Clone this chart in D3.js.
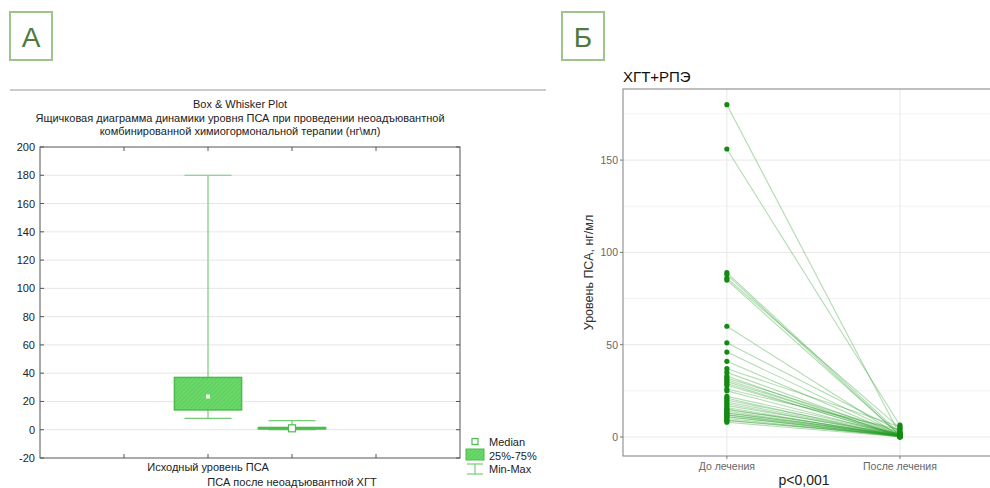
<!DOCTYPE html>
<html><head><meta charset="utf-8">
<script src="https://cdn.jsdelivr.net/npm/d3@7"></script>
<style>body{margin:0;background:#fff}svg{display:block;font-family:"Liberation Sans",Arial,sans-serif}</style>
</head><body>
<svg id="c" width="990" height="488"></svg>
<script>
// ---------- Panel A data (box & whisker) ----------
const boxCategories = ["Исходный уровень ПСА", "ПСА после неоадъювантной ХГТ"];
const boxMin    = [8, 0.1];
const boxQ1     = [14, 0.5];
const boxMedian = [23.5, 1.0];
const boxQ3     = [37, 1.6];
const boxMax    = [180, 6.4];
const boxYTicks = [-20, 0, 20, 40, 60, 80, 100, 120, 140, 160, 180, 200];
const boxTitle = ["Box & Whisker Plot",
  "Ящичковая диаграмма динамики уровня ПСА при проведении неоадъювантной",
  "комбинированной химиогормональной терапии (нг\\мл)"];
const legendLabels = ["Median", "25%-75%", "Min-Max"];

// ---------- Panel B data (paired points) ----------
const timePoints = ["До лечения", "После лечения"];
const psaBefore = [180, 156, 89, 88, 86, 85, 60, 51, 46, 41,
                   37, 35, 33, 32, 31, 30, 29, 28, 26, 25,
                   22, 21, 20, 19, 18, 17, 16, 15, 15, 14,
                   13, 13, 12, 12, 11, 11, 10, 9, 9, 8];
const psaAfter  = [1.2, 6.4, 2.0, 0.8, 4.8, 1.0, 0.5, 3.2, 1.5, 0.9,
                   5.5, 1.1, 0.4, 2.5, 0.7, 1.3, 0.3, 1.0, 4.0, 0.6,
                   1.8, 0.2, 1.6, 0.9, 0.5, 1.4, 0.1, 0.7, 1.0, 0.3,
                   1.2, 0.6, 0.05, 1.1, 0.4, 0.8, 0.2, 1.0, 0.5, 0.1];
const bYTicks = [0, 50, 100, 150];
const bYMinor = [25, 75, 125, 175];
const bTitle = "ХГТ+РПЭ";
const bYLabel = "Уровень ПСА, нг/мл";
const bPValue = "p<0,001";

const svg = d3.select("#c");
const panelLabelColor = "#4f7a3c", panelBoxColor = "#9cc48c";

// Panel letter boxes
[["А", 10, 12], ["Б", 562, 12]].forEach(([t, x, y]) => {
  svg.append("rect").attr("x", x).attr("y", y).attr("width", 42).attr("height", 48)
    .attr("fill", "none").attr("stroke", panelBoxColor).attr("stroke-width", 2);
  svg.append("text").attr("x", x + 21).attr("y", y + 35).attr("text-anchor", "middle")
    .attr("font-size", 28).attr("fill", panelLabelColor).text(t);
});

// ================= Panel A =================
svg.append("line").attr("x1", 10).attr("x2", 546).attr("y1", 90).attr("y2", 90)
  .attr("stroke", "#999").attr("stroke-width", 1.2);
boxTitle.forEach((t, i) => {
  svg.append("text").attr("x", 240).attr("y", 108 + i * 13.5).attr("text-anchor", "middle")
    .attr("font-size", 11).attr("fill", "#222").text(t);
});

const ax = d3.scalePoint().domain(["_l", ...boxCategories, "_r"]).range([40, 460]).padding(1);
const ay = d3.scaleLinear().domain([-20, 200]).range([458, 147]);
const step = ax.step();
const gA = svg.append("g");

// gridlines
gA.selectAll(".hg").data(boxYTicks.filter(v => v > -20 && v < 200)).join("line")
  .attr("x1", 40).attr("x2", 460).attr("y1", d => ay(d)).attr("y2", d => ay(d))
  .attr("stroke", "#e6e6e6");

// pattern
const defs = svg.append("defs");
const pat = defs.append("pattern").attr("id", "hatch").attr("patternUnits", "userSpaceOnUse")
  .attr("width", 3).attr("height", 3).attr("patternTransform", "rotate(45)");
pat.append("rect").attr("width", 3).attr("height", 3).attr("fill", "#6ad86a");
pat.append("line").attr("x1", 0).attr("y1", 0).attr("x2", 0).attr("y2", 3)
  .attr("stroke", "#52c452").attr("stroke-width", 1);

const boxColor = "#4dbb4d", whiskerColor = "#77cc77";
boxCategories.forEach((c, i) => {
  const cx = ax(c), bw = step * 0.8, cw = step * 0.56;
  gA.append("line").attr("x1", cx).attr("x2", cx).attr("y1", ay(boxMax[i])).attr("y2", ay(boxQ3[i]))
    .attr("stroke", whiskerColor).attr("stroke-width", 1.2);
  gA.append("line").attr("x1", cx).attr("x2", cx).attr("y1", ay(boxQ1[i])).attr("y2", ay(boxMin[i]))
    .attr("stroke", whiskerColor).attr("stroke-width", 1.2);
  [boxMax[i], boxMin[i]].forEach(v => gA.append("line").attr("x1", cx - cw / 2).attr("x2", cx + cw / 2)
    .attr("y1", ay(v)).attr("y2", ay(v)).attr("stroke", whiskerColor).attr("stroke-width", 1.2));
  const h = Math.max(ay(boxQ1[i]) - ay(boxQ3[i]), 1.5);
  gA.append("rect").attr("x", cx - bw / 2).attr("y", ay(boxQ3[i])).attr("width", bw).attr("height", h)
    .attr("fill", "url(#hatch)").attr("stroke", boxColor).attr("stroke-width", 1.5);
  const ms = i === 0 ? 4 : 7;
  gA.append("rect").attr("x", cx - ms / 2).attr("y", ay(boxMedian[i]) - ms / 2).attr("width", ms).attr("height", ms)
    .attr("fill", i === 0 ? "#f4fff0" : "#fff").attr("stroke", i === 0 ? "none" : boxColor).attr("stroke-width", 1.2);
});

// frame
gA.append("rect").attr("x", 40).attr("y", 147).attr("width", 420).attr("height", 311)
  .attr("fill", "none").attr("stroke", "#555").attr("stroke-width", 1);
boxYTicks.forEach(v => {
  gA.append("text").attr("x", 35).attr("y", ay(v) + 4).attr("text-anchor", "end")
    .attr("font-size", 11).attr("fill", "#222").text(v);
  gA.append("line").attr("x1", 456).attr("x2", 460).attr("y1", ay(v)).attr("y2", ay(v)).attr("stroke", "#555");
  gA.append("line").attr("x1", 40).attr("x2", 44).attr("y1", ay(v)).attr("y2", ay(v)).attr("stroke", "#555");
});
ax.domain().forEach(d => {
  const x = ax(d);
  gA.append("line").attr("x1", x).attr("x2", x).attr("y1", 147).attr("y2", 151).attr("stroke", "#555");
  gA.append("line").attr("x1", x).attr("x2", x).attr("y1", 454).attr("y2", 458).attr("stroke", "#555");
});
boxCategories.forEach((c, i) => {
  gA.append("text").attr("x", ax(c)).attr("y", 471 + i * 14.5).attr("text-anchor", "middle")
    .attr("font-size", 11).attr("fill", "#222").text(c);
});
// legend
const lg = gA.append("g");
lg.append("rect").attr("x", 472).attr("y", 438.5).attr("width", 6).attr("height", 6)
  .attr("fill", "#fff").attr("stroke", boxColor).attr("stroke-width", 1.2);
lg.append("rect").attr("x", 466).attr("y", 449).attr("width", 18).attr("height", 11)
  .attr("fill", "url(#hatch)").attr("stroke", boxColor).attr("stroke-width", 1);
lg.append("line").attr("x1", 467).attr("x2", 483).attr("y1", 464).attr("y2", 464).attr("stroke", whiskerColor).attr("stroke-width", 1.2);
lg.append("line").attr("x1", 475).attr("x2", 475).attr("y1", 464).attr("y2", 474).attr("stroke", whiskerColor).attr("stroke-width", 1.2);
lg.append("line").attr("x1", 467).attr("x2", 483).attr("y1", 474).attr("y2", 474).attr("stroke", whiskerColor).attr("stroke-width", 1.2);
legendLabels.forEach((t, i) => lg.append("text").attr("x", 489).attr("y", 446 + i * 13.5)
  .attr("font-size", 11).attr("fill", "#222").text(t));

// ================= Panel B =================
const bx = d3.scalePoint().domain(timePoints).range([623, 1003.8]).padding(0.6);
const by = d3.scaleLinear().domain([0, 180]).range([437, 104.7]);
const gB = svg.append("g");
const pTop = 89, pBot = 456, pL = 623, pR = 1004;
gB.selectAll(".mn").data(bYMinor).join("line").attr("x1", pL).attr("x2", pR)
  .attr("y1", d => by(d)).attr("y2", d => by(d)).attr("stroke", "#f3f3f3");
gB.selectAll(".mj").data(bYTicks).join("line").attr("x1", pL).attr("x2", pR)
  .attr("y1", d => by(d)).attr("y2", d => by(d)).attr("stroke", "#e8e8e8");
gB.selectAll(".vg").data(timePoints).join("line").attr("x1", d => bx(d)).attr("x2", d => bx(d))
  .attr("y1", pTop).attr("y2", pBot).attr("stroke", "#e8e8e8");

psaBefore.forEach((v, i) => {
  gB.append("line").attr("x1", bx(timePoints[0])).attr("y1", by(v))
    .attr("x2", bx(timePoints[1])).attr("y2", by(psaAfter[i]))
    .attr("stroke", "#1f9a1f").attr("stroke-opacity", 0.35).attr("stroke-width", 1.1);
});
const ptColor = "#138a13";
gB.selectAll(".pb").data(psaBefore).join("circle").attr("cx", bx(timePoints[0])).attr("cy", d => by(d))
  .attr("r", 2.6).attr("fill", ptColor);
gB.selectAll(".pa").data(psaAfter).join("circle").attr("cx", bx(timePoints[1])).attr("cy", d => by(d))
  .attr("r", 2.6).attr("fill", ptColor);

gB.append("rect").attr("x", pL).attr("y", pTop).attr("width", pR - pL).attr("height", pBot - pTop)
  .attr("fill", "none").attr("stroke", "#8a8a8a").attr("stroke-width", 1.1);
bYTicks.forEach(v => {
  gB.append("line").attr("x1", pL - 3).attr("x2", pL).attr("y1", by(v)).attr("y2", by(v)).attr("stroke", "#777");
  gB.append("text").attr("x", pL - 5).attr("y", by(v) + 4).attr("text-anchor", "end")
    .attr("font-size", 10.5).attr("fill", "#666").text(v);
});
timePoints.forEach(t => {
  gB.append("line").attr("x1", bx(t)).attr("x2", bx(t)).attr("y1", pBot).attr("y2", pBot + 3).attr("stroke", "#777");
  gB.append("text").attr("x", bx(t)).attr("y", pBot + 14).attr("text-anchor", "middle")
    .attr("font-size", 10.5).attr("fill", "#666").text(t);
});
gB.append("text").attr("transform", `translate(593,${(pTop + pBot) / 2}) rotate(-90)`)
  .attr("text-anchor", "middle").attr("font-size", 12.5).attr("fill", "#333").text(bYLabel);
gB.append("text").attr("x", 623).attr("y", 82).attr("font-size", 15).attr("fill", "#111").text(bTitle);
gB.append("text").attr("x", 804).attr("y", 485).attr("text-anchor", "middle")
  .attr("font-size", 14).attr("fill", "#222").text(bPValue);
</script>
</body></html>
